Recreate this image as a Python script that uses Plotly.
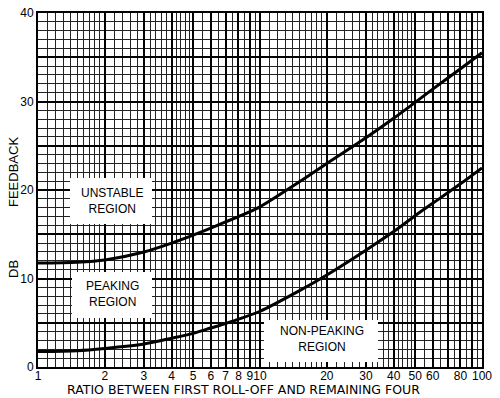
import plotly.graph_objects as go

# ---- data ----
ratio = [1, 1.5, 2, 3, 4, 5, 6, 7, 8, 10, 15, 20, 30, 40, 50, 60, 80, 100]
unstable_boundary = [11.75, 11.85, 12.1, 13.0, 14.0, 14.9, 15.7, 16.4, 17.0, 18.1,
                     20.9, 23.0, 25.9, 28.1, 29.9, 31.4, 33.7, 35.5]
peaking_boundary = [1.75, 1.85, 2.1, 2.6, 3.25, 3.8, 4.4, 4.9, 5.4, 6.3,
                    8.6, 10.4, 13.2, 15.3, 17.1, 18.5, 20.7, 22.5]

x_major = [1, 2, 3, 4, 5, 6, 7, 8, 9, 10, 20, 30, 40, 50, 60, 70, 80, 90, 100]
x_labels = ["1", "2", "3", "4", "5", "6", "7", "8", "9", "10", "20", "30", "40",
            "50", "60", "", "80", "", "100"]
y_major = [0, 5, 10, 15, 20, 25, 30, 35, 40]
y_labels = ["0", "", "10", "", "20", "", "30", "", "40"]

x_title = "RATIO BETWEEN FIRST ROLL-OFF AND REMAINING FOUR"
y_title_top = "FEEDBACK"
y_title_bottom = "DB"

# minor grid of log paper
x_minor = []
for dec in (1, 10):
    x_minor += [round(dec * (1 + 0.1 * i), 4) for i in range(1, 10)]
    x_minor += [round(dec * (2 + 0.2 * i), 4) for i in range(1, 15) if i % 5 != 0]
    x_minor += [round(dec * (5.5 + i), 4) for i in range(5)]
y_minor = [v for v in range(0, 41) if v % 5 != 0]

fig = go.Figure()
for ys in (unstable_boundary, peaking_boundary):
    fig.add_trace(go.Scatter(x=ratio, y=ys, mode="lines",
                             line=dict(color="black", width=3, shape="spline", smoothing=0.8),
                             hoverinfo="skip", showlegend=False))

L, R, T, B = 38, 18, 13, 31
W, H = 500, 398
pw, ph = W - L - R, H - T - B

def px(x):
    return (x - L) / pw

def py(y):
    return (H - B - y) / ph

FONT = "Liberation Sans"
WIDE = "DejaVu Sans"

# white label boxes
boxes = [(70, 178, 152, 224), (72, 272, 152, 318), (264, 320, 378, 362)]
for x0, y0, x1, y1 in boxes:
    fig.add_shape(type="rect", xref="paper", yref="paper",
                  x0=px(x0), x1=px(x1), y0=py(y1), y1=py(y0),
                  fillcolor="white", line=dict(width=0), layer="above")

def note(txt, x, y, angle=0, size=12, family=FONT):
    fig.add_annotation(text=txt, xref="paper", yref="paper", x=px(x), y=py(y),
                       xanchor="center", yanchor="middle", showarrow=False,
                       textangle=angle, align="center",
                       font=dict(size=size, color="black", family=family))

note("UNSTABLE<br>REGION", 112, 201)
note("PEAKING<br>REGION", 112, 294)
note("NON-PEAKING<br>REGION", 322, 339)
note(x_title, 243, 389, size=12.5, family=WIDE)
note(y_title_top, 13, 172, angle=-90, size=13)
note(y_title_bottom, 13, 269, angle=-90, size=13)

fig.update_xaxes(type="log", range=[0, 2], tickmode="array", tickvals=x_major,
                 ticktext=x_labels, tickangle=0, automargin=False,
                 ticklabelstandoff=-3,
                 showgrid=True, gridcolor="black", gridwidth=2,
                 showline=True, linecolor="black", linewidth=2, mirror=True,
                 ticks="", zeroline=False,
                 tickfont=dict(size=12, color="black", family=FONT),
                 minor=dict(tickvals=x_minor, showgrid=True, gridcolor="#222222",
                            gridwidth=1, ticks=""))
fig.update_yaxes(range=[0, 40], tickmode="array", tickvals=y_major, ticktext=y_labels,
                 automargin=False,
                 showgrid=True, gridcolor="black", gridwidth=2,
                 showline=True, linecolor="black", linewidth=2, mirror=True,
                 ticks="", zeroline=False,
                 tickfont=dict(size=12, color="black", family=FONT),
                 minor=dict(tickvals=y_minor, showgrid=True, gridcolor="#222222",
                            gridwidth=1, ticks=""))
fig.update_layout(width=W, height=H, margin=dict(l=L, r=R, t=T, b=B),
                  paper_bgcolor="white", plot_bgcolor="white", showlegend=False)
fig.write_html("out.html")
